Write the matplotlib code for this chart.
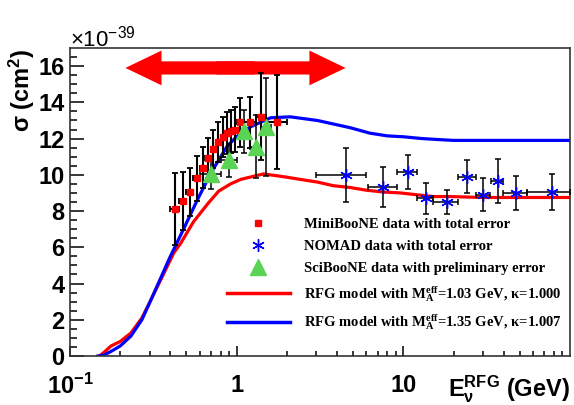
import matplotlib
matplotlib.use("Agg")
import matplotlib.pyplot as plt
from matplotlib.lines import Line2D
import numpy as np

# model curves (RFG)
rfg_red_E = [0.15, 0.16, 0.176, 0.2, 0.232, 0.27, 0.306, 0.35, 0.42, 0.46, 0.55, 0.67, 0.78,
             0.92, 1.06, 1.45, 1.9, 2.4, 3.05, 3.8, 4.8, 6.0, 7.6, 9.6, 12, 15, 19, 30, 50, 100]
rfg_red_s = [0.0, 0.2, 0.55, 0.8, 1.27, 2.1, 3.1, 4.2, 5.7, 6.2, 7.4, 8.4, 9.1,
             9.5, 9.75, 10.05, 9.9, 9.75, 9.6, 9.4, 9.3, 9.15, 9.05, 9.0, 8.9, 8.8, 8.8, 8.75, 8.75, 8.75]
rfg_blue_E = [0.147, 0.16, 0.176, 0.2, 0.232, 0.27, 0.306, 0.35, 0.40, 0.48, 0.58, 0.70, 0.88,
              1.0, 1.21, 1.6, 2.1, 3.05, 4.8, 6.3, 8.0, 10, 13, 16, 20, 50, 100]
rfg_blue_s = [0.0, 0.05, 0.25, 0.55, 1.1, 2.0, 3.1, 4.3, 5.5, 7.0, 8.6, 10.1, 11.6,
              12.1, 12.65, 13.15, 13.2, 13.0, 12.6, 12.3, 12.15, 12.1, 12.0, 11.95, 11.9, 11.9, 11.9]

# MiniBooNE
mb_E = [0.425, 0.475, 0.525, 0.575, 0.625, 0.675, 0.725, 0.775, 0.825, 0.875, 0.925, 0.975,
        1.05, 1.2, 1.4, 1.75]
mb_lo = [0.4, 0.45, 0.5, 0.55, 0.6, 0.65, 0.7, 0.75, 0.8, 0.85, 0.9, 0.95, 1.0, 1.1, 1.3, 1.5]
mb_hi = [0.45, 0.5, 0.55, 0.6, 0.65, 0.7, 0.75, 0.8, 0.85, 0.9, 0.95, 1.0, 1.1, 1.3, 1.5, 2.0]
mb_s = [8.1, 8.55, 9.05, 9.8, 10.4, 10.95, 11.4, 11.8, 12.1, 12.3, 12.4, 12.5, 12.9, 12.9, 13.2, 12.9]
mb_err = [2.0, 1.6, 1.35, 1.25, 1.15, 1.1, 1.05, 1.1, 1.1, 1.15, 1.2, 1.25, 1.35, 1.4, 2.4, 2.6]

# NOMAD
nomad_E = [4.56, 7.6, 10.6, 13.7, 18.3, 24.1, 30.1, 36.9, 47.5, 78]
nomad_lo = [3.0, 6.1, 9.1, 12.1, 15.1, 21.3, 27.3, 33.6, 39.6, 55]
nomad_hi = [6.0, 9.2, 12.1, 15.1, 21.3, 27.3, 33.2, 39.6, 55, 100]
nomad_s = [10.0, 9.35, 10.15, 8.7, 8.5, 9.9, 8.9, 9.67, 9.0, 9.06]
nomad_err = [1.5, 1.1, 0.95, 0.85, 0.65, 0.9, 0.9, 1.2, 0.95, 1.0]

# SciBooNE
sb_E = [0.7, 0.9, 1.1, 1.3, 1.5]
sb_lo = [0.6, 0.8, 1.0, 1.2, 1.4]
sb_hi = [0.8, 1.0, 1.2, 1.4, 1.6]
sb_s = [10.05, 10.8, 12.4, 11.55, 12.65]
sb_err = [0.85, 0.9, 1.2, 1.75, 2.7]

arrow_lo, arrow_hi, arrow_y = 0.215, 4.5, 15.9

green = "#59d454"
plt.rcParams["mathtext.default"] = "regular"

fig = plt.figure(figsize=(5.74, 4.05), dpi=100)
ax = fig.add_axes([70 / 574, 1 - 356 / 405, 500 / 574, 308 / 405])

ax.plot(rfg_red_E, rfg_red_s, color="red", lw=2.3)
ax.plot(rfg_blue_E, rfg_blue_s, color="blue", lw=2.3)

def xerrs(c, lo, hi):
    c = np.array(c)
    return [c - np.array(lo), np.array(hi) - c]

ax.errorbar(mb_E, mb_s, yerr=mb_err, xerr=xerrs(mb_E, mb_lo, mb_hi), fmt="s", ms=5,
            mfc="red", mec="red", ecolor="black", elinewidth=1.5, capsize=2.2, capthick=1.3, zorder=4)
ax.errorbar(nomad_E, nomad_s, yerr=nomad_err, xerr=xerrs(nomad_E, nomad_lo, nomad_hi), fmt="none",
            ecolor="black", elinewidth=1.1, capsize=2.5, capthick=1.1, zorder=4)
ax.plot(nomad_E, nomad_s, ls="none", marker=(6, 2, 0), ms=9, mec="blue", mew=1.0, zorder=5)
ax.errorbar(sb_E, sb_s, yerr=sb_err, xerr=xerrs(sb_E, sb_lo, sb_hi), fmt="none",
            ecolor="black", elinewidth=1.1, capsize=2.2, capthick=1.1, zorder=4)
ax.plot(sb_E, sb_s, ls="none", marker="^", ms=11, color=green, zorder=5)

# double red arrow: two single-headed arrows overlapping in the middle
mid = np.sqrt(arrow_lo * arrow_hi)
for end, start in ((arrow_lo, mid * 1.3), (arrow_hi, mid / 1.3)):
    ax.annotate("", xy=(end, arrow_y), xytext=(start, arrow_y),
                arrowprops=dict(arrowstyle="simple,head_length=0.52,head_width=0.5,tail_width=0.19",
                                color="red", lw=0, mutation_scale=50, shrinkA=0, shrinkB=0))

ax.set_xscale("log")
ax.set_xlim(0.1, 100)
ax.set_ylim(0, 17)
ax.set_xticks([0.1, 1, 10])
ax.set_xticklabels([r"10$^{-1}$", "1", "10"])
ax.set_yticks(np.arange(0, 17, 2))
ax.set_yticks(np.arange(0, 17, 0.5), minor=True)
for lab in ax.get_xticklabels() + ax.get_yticklabels():
    lab.set_fontfamily("Liberation Sans")
    lab.set_fontweight("bold")
    lab.set_fontsize(17)
ax.tick_params(axis="y", which="major", direction="in", length=10, width=1.1, pad=4)
ax.tick_params(axis="y", which="minor", direction="in", length=5, width=1.1)
ax.tick_params(axis="x", which="major", direction="in", length=7, width=1.1, pad=13)
ax.tick_params(axis="x", which="minor", direction="in", length=3.6, width=1.1)
ax.tick_params(top=False, right=False, which="both")
for sp in ax.spines.values():
    sp.set_linewidth(1.2)
    sp.set_color("#333333")

fig.text(70 / 574, 1 - 46 / 405, r"$\times$10$^{-39}$", fontsize=16, family="Liberation Sans",
         ha="left", va="baseline")
fig.text(22 / 574, 1 - 48 / 405, r"σ (cm$^{2}$)", fontsize=17, family="Liberation Sans",
         fontweight="bold", rotation=90, ha="center", va="top")
fig.text(570 / 574, 1 - 396 / 405, r"E$_{\nu}^{RFG}$ (GeV)", fontsize=17,
         family="Liberation Sans", fontweight="bold", ha="right", va="baseline")

handles = [
    Line2D([], [], ls="none", marker="s", ms=4, color="red"),
    Line2D([], [], ls="none", marker=(6, 2, 0), ms=9, mec="blue", mew=1.0),
    Line2D([], [], ls="none", marker="^", ms=12, color=green),
    Line2D([], [], color="red", lw=2.5),
    Line2D([], [], color="blue", lw=2.5),
]
labels = [
    "MiniBooNE data with total error",
    "NOMAD data with total error",
    "SciBooNE data with preliminary error",
    r"RFG model with M$_A^{eff}$=1.03 GeV, κ=1.000",
    r"RFG model with M$_A^{eff}$=1.35 GeV, κ=1.007",
]
leg = ax.legend(handles, labels, loc="upper left", bbox_to_anchor=(157 / 500, (356 - 218) / 308),
                frameon=False, handlelength=4.3, handletextpad=1.0, labelspacing=0.6,
                borderpad=0, borderaxespad=0,
                prop={"family": "Liberation Serif", "weight": "bold", "size": 10.5})

fig.savefig("out.png", dpi=100)
